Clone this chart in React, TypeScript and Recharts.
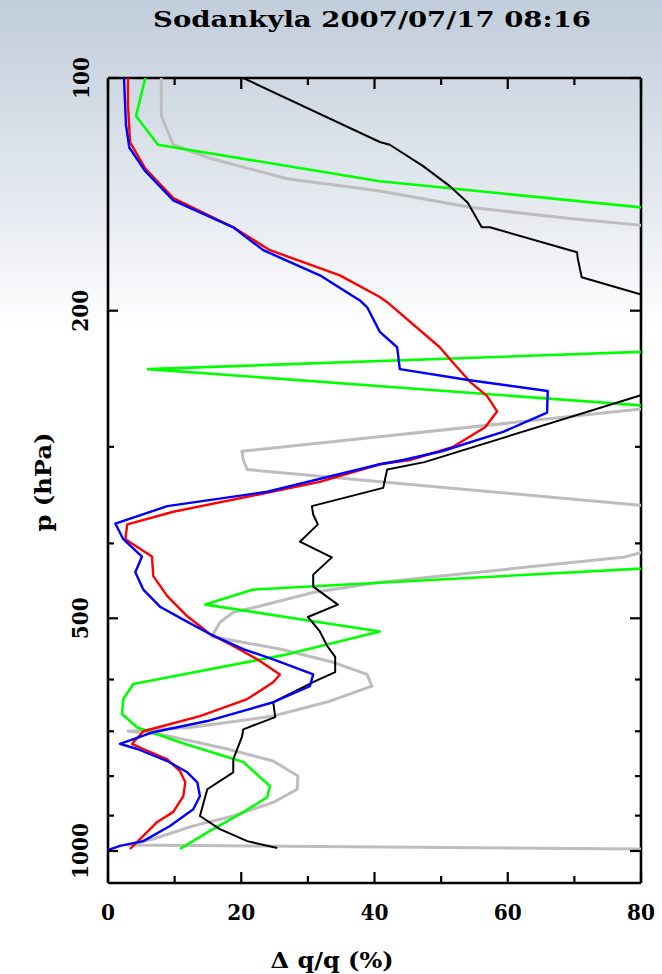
import React from 'react';
import { ScatterChart, Scatter, XAxis, YAxis } from 'recharts';

const title = 'Sodankyla 2007/07/17 08:16';
const xLabel = 'Δ q/q (%)';
const yLabel = 'p (hPa)';
const xTicks = [0, 10, 20, 30, 40, 50, 60, 70, 80];
const xLabeledTicks = [0, 20, 40, 60, 80];
const pTicks = [100, 200, 300, 400, 500, 600, 700, 800, 900, 1000];
const pLabeledTicks = [100, 200, 500, 1000];

// [Δq/q (%), p (hPa)]
const blackSeries: [number, number][] = [
  [20.3, 100], [40.8, 121], [42.3, 122], [47.3, 130], [51.3, 138], [54.0, 145], [56.1, 156], [57.3, 156],
  [70.4, 168], [70.5, 171], [71.1, 181], [79.5, 190], [90, 201], [90, 242], [79.5, 258], [47.5, 314],
  [41.9, 321], [41.3, 339], [30.6, 358], [30.8, 367], [31.5, 378], [28.8, 398], [33.6, 417], [30.8, 439],
  [30.8, 455], [34.5, 480], [30.0, 498], [31.8, 520], [32.9, 543], [34.1, 561], [34.1, 587], [31.1, 603],
  [24.8, 642], [25.1, 671], [20.3, 696], [20.1, 712], [18.8, 761], [18.8, 791], [14.9, 832], [13.8, 901],
  [16.8, 937], [20.9, 971], [25.4, 991],
];

const graySeries: [number, number][] = [
  [8.0, 100], [8.0, 112], [9.8, 122], [15.3, 127], [26.9, 135], [40.8, 140], [54.3, 147], [69.3, 152],
  [79.8, 155], [100, 162], [100, 257], [20.1, 304], [20.3, 312], [20.9, 321], [79.8, 357], [100, 370],
  [95, 380], [77.3, 417], [40.8, 449], [30.8, 463], [22.4, 483], [18.8, 491], [16.8, 506], [15.6, 528],
  [25.8, 548], [33.8, 570], [38.9, 591], [39.6, 612], [33.3, 640], [24.8, 669], [12.3, 692], [3.0, 700],
  [7.8, 706], [17.9, 738], [24.8, 765], [28.5, 800], [28.4, 832], [24.8, 865], [18.8, 901], [12.8, 928],
  [6.8, 965], [3.0, 982], [120, 1000],
];

const greenSeries: [number, number][] = [
  [5.6, 100], [4.2, 112], [7.5, 122], [40.8, 136], [100, 153], [100, 223], [6.0, 238], [100, 273],
  [100, 422], [21.8, 459], [14.6, 480], [40.8, 520], [26.3, 558], [3.8, 608], [2.3, 636], [2.1, 665],
  [4.4, 692], [11.6, 727], [20.3, 767], [24.3, 824], [23.9, 852], [19.8, 896], [15.3, 942], [10.8, 994],
];

const redSeries: [number, number][] = [
  [3.0, 100], [3.0, 108], [3.3, 121], [5.6, 131], [9.8, 143], [18.8, 156], [24.3, 167], [34.8, 180],
  [40.8, 192], [41.9, 195], [49.8, 223], [51.3, 231], [54.3, 247], [56.9, 258], [58.4, 270], [56.6, 283],
  [51.8, 300], [45.3, 312], [40.8, 316], [31.8, 333], [22.4, 346], [9.8, 364], [2.9, 378], [2.6, 395],
  [6.6, 416], [6.8, 441], [8.9, 468], [11.9, 497], [15.3, 524], [18.8, 543], [22.4, 565], [25.8, 591],
  [24.8, 605], [20.9, 636], [13.8, 669], [5.3, 700], [3.6, 727], [5.3, 738], [8.9, 761], [10.8, 788],
  [11.6, 815], [11.3, 849], [9.8, 890], [7.4, 917], [5.3, 956], [3.3, 994],
];

const blueSeries: [number, number][] = [
  [2.4, 100], [2.7, 115], [3.2, 123], [5.6, 132], [9.8, 144], [18.8, 156], [23.3, 167], [31.8, 180],
  [37.8, 194], [38.9, 198], [40.8, 213], [43.4, 223], [43.8, 238], [54.3, 246], [66.0, 254], [65.9, 271],
  [59.3, 287], [50.1, 304], [44.3, 312], [40.8, 316], [23.9, 343], [8.9, 358], [1.1, 377], [2.3, 395],
  [5.1, 416], [4.1, 436], [5.3, 459], [7.8, 483], [11.3, 502], [15.3, 524], [20.3, 548], [24.8, 565],
  [30.8, 591], [30.3, 612], [24.8, 642], [14.9, 679], [6.8, 702], [1.8, 727], [4.4, 738], [8.9, 765],
  [11.9, 791], [13.4, 815], [13.8, 849], [12.8, 883], [9.3, 928], [5.3, 971], [1.8, 985], [0, 997],
];

const toData = (s: [number, number][]) => s.map(([dq, p]) => ({ dq, p }));

const FONT = '"DejaVu Serif", serif';
const W = 662;
const H = 974;
const DIGIT_W = 14;

const NoShape = () => <g />;

const BottomTick = (props: any) => {
  const { x, y, payload } = props;
  const v = payload.value;
  const major = xLabeledTicks.includes(v);
  const s = String(v);
  return (
    <g>
      <line x1={x} y1={y} x2={x} y2={y - (major ? 11 : 7)} stroke="#000" strokeWidth={2.2} />
      {major && (
        <text
          x={x}
          y={y + 37}
          textAnchor="middle"
          textLength={s.length * DIGIT_W}
          lengthAdjust="spacingAndGlyphs"
          fontFamily={FONT}
          fontWeight="bold"
          fontSize={23}
          fill="#000"
        >
          {s}
        </text>
      )}
    </g>
  );
};

const TopTick = (props: any) => {
  const { x, y, payload } = props;
  const major = xLabeledTicks.includes(payload.value);
  return <line x1={x} y1={y} x2={x} y2={y + (major ? 11 : 7)} stroke="#000" strokeWidth={2.2} />;
};

const LeftTick = (props: any) => {
  const { x, y, payload } = props;
  const v = payload.value;
  const major = pLabeledTicks.includes(v);
  const lx = x - 28;
  const s = String(v);
  return (
    <g>
      <line x1={x} y1={y} x2={x + (major ? 10 : 6)} y2={y} stroke="#000" strokeWidth={2.2} />
      {major && (
        <text
          x={lx}
          y={y}
          transform={`rotate(-90 ${lx} ${y})`}
          textAnchor="middle"
          dominantBaseline="central"
          textLength={s.length * DIGIT_W}
          lengthAdjust="spacingAndGlyphs"
          fontFamily={FONT}
          fontWeight="bold"
          fontSize={23}
          fill="#000"
        >
          {s}
        </text>
      )}
    </g>
  );
};

const RightTick = (props: any) => {
  const { x, y, payload } = props;
  const major = pLabeledTicks.includes(payload.value);
  return <line x1={x} y1={y} x2={x - (major ? 11 : 6)} y2={y} stroke="#000" strokeWidth={2.2} />;
};

const series = [
  { name: 'gray', data: graySeries, color: '#bdbdbd', width: 3 },
  { name: 'green', data: greenSeries, color: '#00ff00', width: 2.6 },
  { name: 'black', data: blackSeries, color: '#000000', width: 2 },
  { name: 'red', data: redSeries, color: '#ff0000', width: 2.4 },
  { name: 'blue', data: blueSeries, color: '#0000ff', width: 2.4 },
];

const axisLine = { stroke: '#000', strokeWidth: 2.6 };

export default function App() {
  return (
    <div
      style={{
        position: 'absolute',
        left: 0,
        top: 0,
        width: W,
        height: H,
        background: 'linear-gradient(180deg, #c2cddb 0px, #d6dee7 120px, #eceff4 240px, #ffffff 330px, #ffffff 100%)',
      }}
    >
      <ScatterChart width={W} height={H} margin={{ top: 0, right: 0, bottom: 0, left: 0 }}>
        <XAxis
          xAxisId={0}
          type="number"
          dataKey="dq"
          domain={[0, 80]}
          ticks={xTicks}
          interval={0}
          allowDataOverflow
          orientation="bottom"
          height={91}
          tickSize={0}
          tickMargin={0}
          tickLine={false}
          axisLine={axisLine}
          tick={<BottomTick />}
        />
        <XAxis
          xAxisId="top"
          type="number"
          dataKey="dq"
          domain={[0, 80]}
          ticks={xTicks}
          interval={0}
          allowDataOverflow
          orientation="top"
          height={78}
          tickSize={0}
          tickMargin={0}
          tickLine={false}
          axisLine={axisLine}
          tick={<TopTick />}
        />
        <YAxis
          yAxisId={0}
          type="number"
          dataKey="p"
          scale="log"
          domain={[100, 1100]}
          reversed
          ticks={pTicks}
          interval={0}
          allowDataOverflow
          orientation="left"
          width={108}
          tickSize={0}
          tickMargin={0}
          tickLine={false}
          axisLine={axisLine}
          tick={<LeftTick />}
        />
        <YAxis
          yAxisId="right"
          type="number"
          dataKey="p"
          scale="log"
          domain={[100, 1100]}
          reversed
          ticks={pTicks}
          interval={0}
          allowDataOverflow
          orientation="right"
          width={21}
          tickSize={0}
          tickMargin={0}
          tickLine={false}
          axisLine={axisLine}
          tick={<RightTick />}
        />
        {series.map((s) => (
          <Scatter
            key={s.name}
            name={s.name}
            data={toData(s.data)}
            xAxisId={0}
            yAxisId={0}
            fill={s.color}
            line={{ stroke: s.color, strokeWidth: s.width, strokeLinejoin: 'round' }}
            lineType="joint"
            shape={<NoShape />}
            isAnimationActive={false}
          />
        ))}
      </ScatterChart>
      <svg
        width={W}
        height={H}
        style={{ position: 'absolute', left: 0, top: 0, pointerEvents: 'none' }}
      >
        <text
          x={372}
          y={27}
          textAnchor="middle"
          textLength={438}
          lengthAdjust="spacingAndGlyphs"
          fontFamily={FONT}
          fontWeight="bold"
          fontSize={22}
          fill="#000"
        >
          {title}
        </text>
        <text
          x={332}
          y={968}
          textAnchor="middle"
          textLength={123}
          lengthAdjust="spacingAndGlyphs"
          fontFamily={FONT}
          fontWeight="bold"
          fontSize={22}
          fill="#000"
        >
          {xLabel}
        </text>
        <text
          x={43}
          y={482}
          transform="rotate(-90 43 482)"
          textAnchor="middle"
          dominantBaseline="central"
          textLength={99}
          lengthAdjust="spacingAndGlyphs"
          fontFamily={FONT}
          fontWeight="bold"
          fontSize={22}
          fill="#000"
        >
          {yLabel}
        </text>
      </svg>
    </div>
  );
}
